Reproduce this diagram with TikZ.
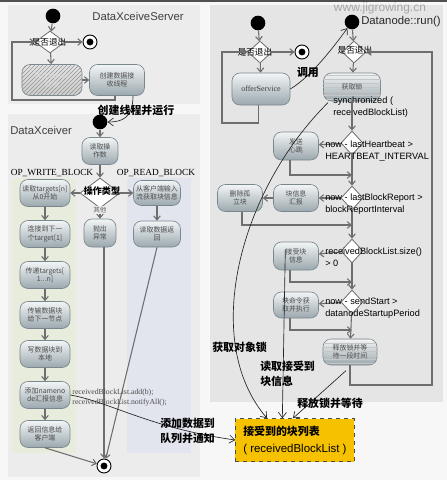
\documentclass[tikz,border=0pt]{standalone}
\usepackage{fontspec}
\setmainfont{Liberation Serif}
\setsansfont{Liberation Sans}
\newfontfamily\cjk{Noto Sans CJK SC}
\usetikzlibrary{shapes.geometric,arrows.meta,patterns}
\definecolor{bgc}{HTML}{F7F7F7}
\definecolor{topbar}{HTML}{505050}
\definecolor{panelL}{HTML}{ECECEC}
\definecolor{panelR}{HTML}{E5E5E5}
\definecolor{colG}{HTML}{E8ECDD}
\definecolor{colB}{HTML}{E2E4EE}
\definecolor{boxtop}{HTML}{F2F5F6}
\definecolor{boxbot}{HTML}{9BA8AE}
\definecolor{boxedge}{HTML}{7A878D}
\definecolor{arr}{HTML}{6E6E6E}
\definecolor{gold}{HTML}{F6C200}
\begin{document}
\begin{tikzpicture}[x=0.75pt,y=-0.75pt,
  wh/.style 2 args={minimum width=#1*0.75pt, minimum height=#2*0.75pt},
  act/.style={draw=boxedge, line width=0.5pt, rounded corners=6pt, top color=boxtop, bottom color=boxbot,
     inner sep=1pt, align=center, font=\cjk\fontsize{5.2}{6.4}\selectfont, text=black!70},
  lockbox/.style={act, postaction={pattern=horizontal lines, pattern color=white!55!gray}},
  hatchbox/.style={act, top color=gray!20, bottom color=gray!40, text=white!85!black,
     postaction={pattern=north east lines, pattern color=gray!85}},
  dia/.style={diamond, draw=arr, fill=white, line width=0.6pt, inner sep=0pt},
  startc/.style={circle, fill=black, inner sep=0pt, minimum size=11pt},
  endc/.style={circle, draw=black, fill=white, line width=0.7pt, inner sep=0pt, minimum size=10.5pt,
     path picture={\fill[black] (path picture bounding box.center) circle (2.6pt);}},
  a/.style={draw=arr, line width=0.8pt, -{Straight Barb[length=3pt,width=5pt]}},
  c/.style={draw=black!85, line width=0.5pt, -{Straight Barb[length=4pt,width=6pt]}},
  ttl/.style={font=\sffamily\fontsize{8.5}{10}\selectfont, text=black!75, inner sep=0pt},
  qlab/.style={font=\cjk\fontsize{6.5}{7.5}\selectfont, inner sep=0pt},
  blab/.style={font=\cjk\bfseries\fontsize{8.2}{11.5}\selectfont, inner sep=0pt, align=left},
  op/.style={font=\rmfamily\fontsize{7}{8}\selectfont, inner sep=0pt},
  cond/.style={font=\sffamily\fontsize{6.9}{8.6}\selectfont, inner sep=0pt, align=left, anchor=west}
]
\useasboundingbox (0,0) rectangle (447,480);
\fill[bgc] (0,0) rectangle (447,480);
\fill[topbar] (0,0) rectangle (447,2);
\fill[panelL] (8,5) rectangle (200,104);
\fill[panelL] (8,114) rectangle (200,477);
\fill[colG] (12,178) rectangle (76,453);
\fill[colB] (127,178) rectangle (191,453);
\fill[panelR] (210,5) rectangle (443,402);

% ---------- DataXceiveServer ----------
\node[startc] (s1) at (53,16) {};
\node[ttl] (t1) at (138,16) {DataXceiveServer};
\node[dia, wh={30}{22}] (d1) at (50,42) {};
\node[qlab] (q1) at (49,42) {是否退出};
\node[endc] (e1) at (90,42) {};
\node[hatchbox, wh={60}{31}] (wt) at (52,80) {等待socket\\连接};
\node[act, wh={55}{31}] (cr) at (117,80) {创建数据接\\收线程};
\draw[a] (s1) -- (d1);
\draw[a] (d1) -- (e1);
\draw[a] (d1) -- (wt);
\draw[a] (wt) -- (cr);
\coordinate (lp1) at (12,100);
\draw[a] ([xshift=-1.5pt]cr.south) |- (lp1) |- (d1.west);

% ---------- DataXceiver ----------
\node[ttl, anchor=west] (t2) at (10,130) {DataXceiver};
\node[startc] (s2) at (100,122) {};
\draw[c] ([xshift=12pt]cr.south) .. controls (133,118) and (122,122) .. (s2);
\node[blab] (l1) at (136,110) {创建线程并运行};
\node[act, wh={36}{27}] (b1) at (100,151) {读取操\\作数};
\node[dia, wh={40}{30}] (d2) at (100,193) {};
\node[op] (op1) at (52,173) {OP\_WRITE\_BLOCK};
\node[op] (op2) at (156,173) {OP\_READ\_BLOCK};
\node[act, wh={50}{27}] (w1) at (45,193) {读取targets[n]\\从0开始};
\node[act, wh={50}{27}] (w2) at (45,234) {连接到下一\\个target[1]};
\node[act, wh={50}{27}] (w3) at (45,275) {传递targets[\\1...n]};
\node[act, wh={50}{27}] (w4) at (45,315) {传输数据块\\给下一节点};
\node[act, wh={50}{27}] (w5) at (45,354) {写数据块到\\本地};
\node[act, wh={50}{27}] (w6) at (45,395) {添加nameno\\de汇报信息};
\node[act, wh={50}{27}] (w7) at (45,434) {返回信息给\\客户端};
\node[act, wh={32}{28}] (ex) at (100,233) {抛出\\异常};
\node[act, wh={47}{25}] (r1) at (157,193) {从客户端输入\\流获取块信息};
\node[act, wh={47}{26}] (r2) at (157,234) {读取数据返\\回};
\node[endc] (e2) at (104,466) {};
\draw[a] (s2) -- (b1);
\draw[a] (b1) -- (d2);
\draw[a] (d2) -- (w1);
\draw[a] (d2) -- (r1);
\draw[a] (d2) -- (ex);
\node[font=\cjk\fontsize{5}{6}\selectfont, text=black!60, inner sep=0.5pt, fill=panelL] (oth) at (100,210) {其他};
\node[font=\cjk\bfseries\fontsize{6.8}{8}\selectfont, inner sep=0pt] (l2) at (102,191) {操作类型};
\draw[a] (w1) -- (w2);
\draw[a] (w2) -- (w3);
\draw[a] (w3) -- (w4);
\draw[a] (w4) -- (w5);
\draw[a] (w5) -- (w6);
\draw[a] (w6) -- (w7);
\draw[a] (r1) -- (r2);
\draw[a] (w7.south) -- (e2);
\draw[a] (ex.south -| e2) -- (e2);
\draw[a] (r2.south) -- (e2);
\node[font=\rmfamily\fontsize{5.8}{7.4}\selectfont, text=black!70, inner sep=0pt, align=left, anchor=east] (code) at (167,398) {receivedBlockList.add(b);\\receivedBlockList.notifyAll();};

% ---------- offerService ----------
\node[startc] (s3) at (258,23) {};
\node[dia, wh={24}{22}] (d3) at (260,52) {};
\node[qlab] (q3) at (255,52) {是否退出};
\node[endc] (e3) at (302,52) {};
\node[act, wh={58}{32}, font=\rmfamily\fontsize{6}{7}\selectfont, text=black!75] (of) at (261,89) {offerService};
\draw[a] (s3) -- (d3);
\draw[a] (d3) -- (e3);
\draw[a] (d3) -- (of);
\coordinate (lp2) at (222,123);
\draw[a] ([xshift=-2.2pt]of.south) |- (lp2) |- (d3.west);

% ---------- Datanode::run ----------
\node[startc] (s4) at (352,22) {};
\node[font=\sffamily\fontsize{9}{10}\selectfont, text=gray!70, inner sep=0pt] (wm) at (380,8) {www.jigrowing.cn};
\node[ttl, anchor=west, text=black!85] (t4) at (361,22) {Datanode::run()};
\draw[c] (of.east) .. controls (312,76) and (335,45) .. (s4);
\node[blab] (l3) at (308,72) {调用};
\node[dia, wh={24}{22}] (d4) at (354,52) {};
\node[qlab] (q4) at (355,50) {是否退出};
\node[lockbox, wh={57}{28}] (lk) at (352,87) {获取锁};
\node[cond] (sy) at (333,107) {synchronized (\\receivedBlockList)};
\node[dia, wh={22}{24}] (d5) at (352,143) {};
\node[dia, wh={22}{24}] (d6) at (352,198) {};
\node[dia, wh={22}{24}] (d7) at (352,251) {};
\node[dia, wh={22}{24}] (d8) at (352,302) {};
\node[act, wh={45}{28}] (hb) at (296,146) {发送\\心跳};
\node[act, wh={45}{27}] (br) at (296,198) {块信息\\汇报};
\node[act, wh={45}{27}] (dl) at (240,198) {删除孤\\立块};
\node[act, wh={45}{28}] (rb) at (296,256) {接受块\\信息};
\node[act, wh={45}{26}] (cm) at (296,305) {块命令获\\取并执行};
\node[lockbox, wh={54}{26}] (rl) at (350,352) {释放锁并等\\待一段时间};
\draw[a] (s4) -- (d4);
\draw[a] (d4) -- (lk);
\draw[a] (lk) -- (d5);
\draw[a] (d5) -- (d6);
\draw[a] (d6) -- (d7);
\draw[a] (d7) -- (d8);
\draw[a] (d8) -- (rl);
\draw[a] (d5) -- (hb);
\draw[a] (d6) -- (br);
\draw[a] (br) -- (dl);
\draw[a] (d7) -- (rb);
\draw[a] (d8) -- (cm);
\coordinate (j1) at (352,175);
\coordinate (j2) at (352,225);
\coordinate (j3) at (352,282);
\coordinate (j4) at (352,330);
\draw[a] ([xshift=-4.5pt]hb.south) |- (j1);
\draw[a] ([xshift=1.5pt]dl.south) |- (j2);
\draw[a] ([xshift=-4.5pt]rb.south) |- (j3);
\draw[a] ([xshift=-4.5pt]cm.south) |- (j4);
\coordinate (lp3) at (432,385);
\draw[a] (rl.south) |- (lp3) |- (d4.east);
\node[cond] (c5) at (325,151) {now - lastHeartbeat >\\HEARTBEAT\_INTERVAL};
\node[cond] (c6) at (325,204) {now - lastBlockReport >\\blockReportInterval};
\node[cond] (c7) at (325,257) {receivedBlockList.size()\\> 0};
\node[cond] (c8) at (325,308) {now - sendStart >\\datanodeStartupPeriod};

% ---------- receivedBlockList ----------
\node[draw=black!70, dashed, fill=gold, minimum width=119*0.75pt, minimum height=43*0.75pt, inner sep=0pt] (yl) at (295,440) {};
\node[blab, anchor=west] (y1) at (243,431) {接受到的块列表};
\node[font=\sffamily\fontsize{8.6}{10}\selectfont, inner sep=0pt, anchor=west] (y2) at (243,450) {( receivedBlockList )};
\draw[c] ([xshift=-18pt,yshift=-1pt]lk.south) .. controls (240,190) and (200,340) .. ([xshift=-21pt]yl.north);
\draw[c] ([xshift=-8pt,yshift=5pt]rb.center) -- ([xshift=-9.5pt]yl.north);
\draw[c] ([xshift=-3pt,yshift=-4pt]rl.south) -- ([xshift=-1.5pt]yl.north);
\draw[c] (w6.east) .. controls (110,402) and (150,428) .. (yl.west);
\node[blab, anchor=west] (l4) at (212,347) {获取对象锁};
\node[blab, anchor=west] (l5) at (260,374) {读取接受到\\块信息};
\node[blab, anchor=west] (l6) at (297,403) {释放锁并等待};
\node[blab, anchor=west] (l7) at (160,431) {添加数据到\\队列并通知};
\end{tikzpicture}
\end{document}
